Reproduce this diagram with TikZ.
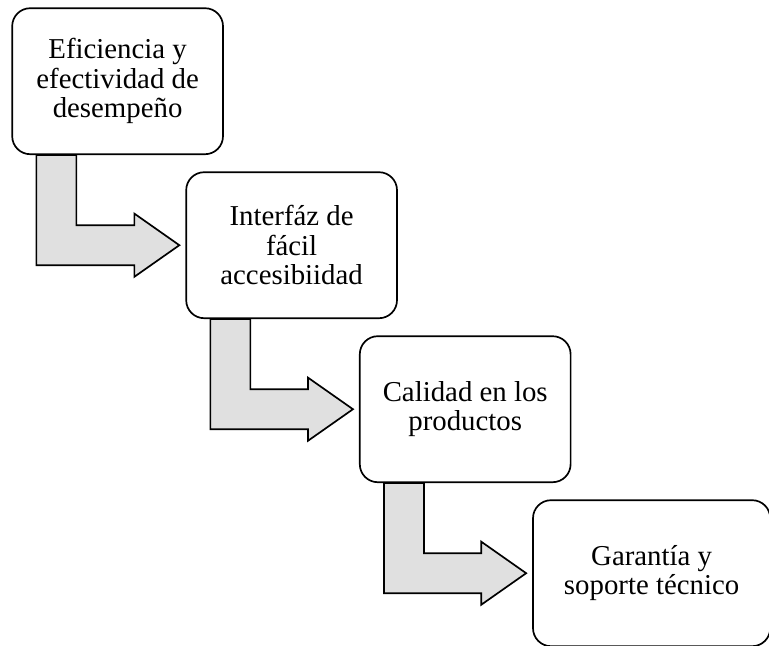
\documentclass[tikz,border=0pt]{standalone}
\usepackage{fontspec}
\setmainfont{Liberation Serif}
\usetikzlibrary{positioning,calc}

% bent block arrow from the bottom of one stage to the left side of the next
\newcommand{\bentarrow}[2]{%
  \draw [flow] let \p1=(#1.south west), \p2=(#2.west) in
    (\x1+0.625cm,\y1) -- (\x1+0.625cm,\y2-0.5cm) -- (\x2-1.275cm,\y2-0.5cm)
    -- (\x2-1.275cm,\y2-0.79cm) -- (\x2-0.15cm,\y2) -- (\x2-1.275cm,\y2+0.79cm)
    -- (\x2-1.275cm,\y2+0.5cm) -- (\x1+1.625cm,\y2+0.5cm) -- (\x1+1.625cm,\y1) -- cycle;}

\begin{document}
\begin{tikzpicture}[
    node distance=4.1cm,
    font=\fontsize{20.5}{21}\selectfont,
    stage/.style={
		rectangle,
		rounded corners=0.45cm,
		draw=black,
		line width=1.2pt,
		align=center,
		minimum width=5.27cm,
		minimum height=3.65cm,
		fill=white
	},
	flow/.style={
		draw=black,
		line width=1.2pt,
		fill=black!12
	}
  ]
  \useasboundingbox (0,0) rectangle (19.225,-16.125);

  % We start by placing the blocks
  \node [stage] (effic) at (2.94,-2.03) {Eficiencia y\\efectividad de\\desempeño};

  \node [stage, below of=effic, xshift=4.35cm] (interf) {Interfáz de\\fácil\\accesibiidad};

  \node [stage, below of=interf, xshift=4.34cm] (calid) {Calidad en los\\productos};

  \node [stage, below of=calid, xshift=4.66cm, minimum width=5.93cm] (garan) {Garantía y\\soporte técnico};

  % then the arrows between them
  \bentarrow{effic}{interf}
  \bentarrow{interf}{calid}
  \bentarrow{calid}{garan}

\end{tikzpicture}
\end{document}
